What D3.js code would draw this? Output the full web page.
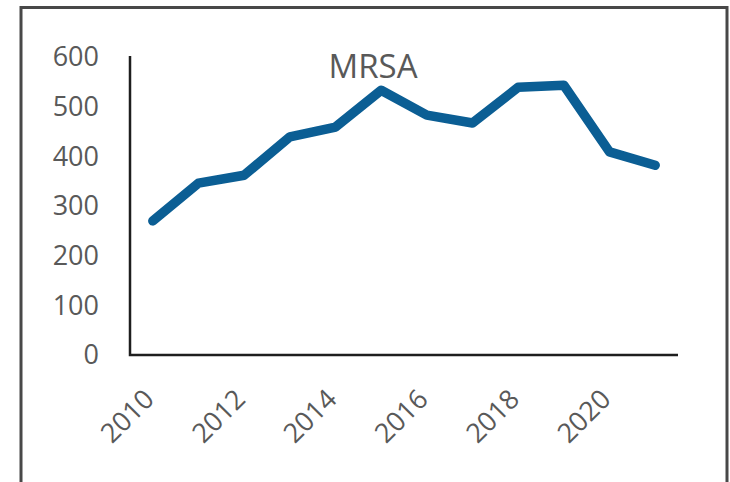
<!DOCTYPE html>
<html>
<head>
<meta charset="utf-8">
<script src="https://cdn.jsdelivr.net/npm/d3@7"></script>
<style>
  html, body { margin: 0; padding: 0; background: #fff; }
  svg { display: block; }
</style>
</head>
<body>
<svg id="chart" width="730" height="482"></svg>
<script>
// Annual MRSA counts
const years = [2010, 2011, 2012, 2013, 2014, 2015, 2016, 2017, 2018, 2019, 2020, 2021];
const mrsa = [268, 344, 360, 437, 457, 531, 481, 465, 537, 541, 407, 380];
const yTicks = [0, 100, 200, 300, 400, 500, 600];
const xTickLabels = [2010, 2012, 2014, 2016, 2018, 2020];
const title = "MRSA";

const svg = d3.select("#chart");
const font = "'Open Sans', 'Liberation Sans', sans-serif";
const textColor = "#595959";

// outer frame (bottom edge runs past the canvas)
svg.append("path")
  .attr("d", "M21,490 L21,7.5 L727,7.5 L727,490")
  .attr("fill", "none")
  .attr("stroke", "#484848")
  .attr("stroke-width", 3);

const plot = { left: 130, right: 678, top: 56, bottom: 355 };

const x = d3.scaleBand()
  .domain(years)
  .range([plot.left, plot.right]);

const y = d3.scaleLinear()
  .domain([0, 600])
  .range([plot.bottom - 1, plot.top]);

// y axis labels
const yAxis = d3.axisLeft(y).tickValues(yTicks).tickSize(0).tickPadding(0);
const gy = svg.append("g")
  .attr("transform", `translate(99,0)`)
  .call(yAxis);
gy.select(".domain").remove();
gy.selectAll("text")
  .attr("font-family", font)
  .attr("font-size", 27)
  .attr("fill", textColor)
  .attr("dy", "0.36em");

// x axis labels (every other year), rotated
const xAxis = d3.axisBottom(x).tickValues(xTickLabels).tickSize(0).tickPadding(0);
const gx = svg.append("g")
  .attr("transform", `translate(0,${plot.bottom})`)
  .call(xAxis);
gx.select(".domain").remove();
gx.selectAll("text")
  .attr("font-family", font)
  .attr("font-size", 27)
  .attr("fill", textColor)
  .attr("text-anchor", "end")
  .attr("dy", "0.36em")
  .attr("transform", "translate(-4,39) rotate(-45)");

// axis lines
svg.append("path")
  .attr("d", `M${plot.left},${plot.top} L${plot.left},${plot.bottom} L${plot.right},${plot.bottom}`)
  .attr("fill", "none")
  .attr("stroke", "#1e1e1e")
  .attr("stroke-width", 2.5);

// series line
const line = d3.line()
  .x((d, i) => x(years[i]) + x.bandwidth() / 2)
  .y(d => y(d));

svg.append("path")
  .datum(mrsa)
  .attr("d", line)
  .attr("fill", "none")
  .attr("stroke", "#0b5e94")
  .attr("stroke-width", 9.5)
  .attr("stroke-linejoin", "round")
  .attr("stroke-linecap", "round");

// chart title
svg.append("text")
  .attr("x", 373)
  .attr("y", 78)
  .attr("text-anchor", "middle")
  .attr("font-family", font)
  .attr("font-size", 33)
  .attr("fill", textColor)
  .text(title);
</script>
</body>
</html>
